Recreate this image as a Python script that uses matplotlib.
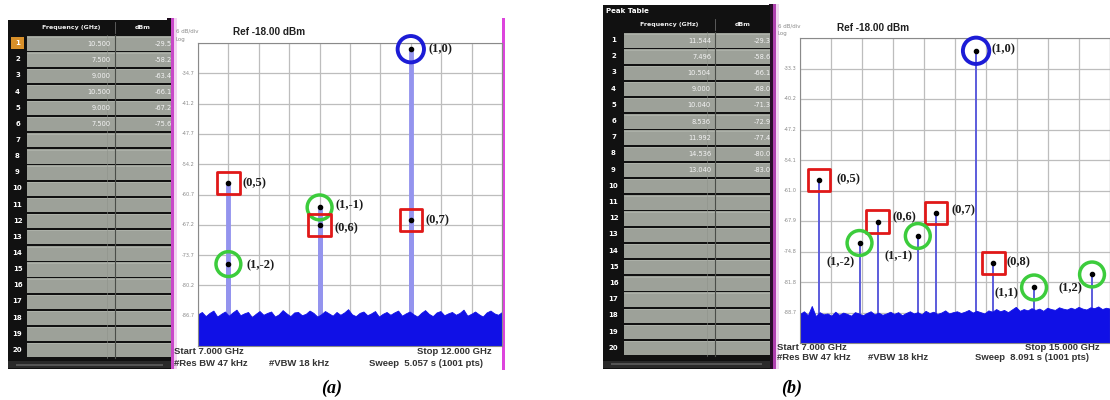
import numpy as np
import matplotlib
matplotlib.use("Agg")
import matplotlib.pyplot as plt
from matplotlib.patches import Rectangle

# ---------------- data ----------------
a_table_freq = ["10.500", "7.500", "9.000", "10.500", "9.000", "7.500"]
a_table_dbm = ["-29.53", "-58.28", "-63.47", "-66.13", "-67.25", "-75.63"]
a_peak_freq = [10.5, 7.5, 9.0, 10.5, 9.0, 7.5]
a_peak_dbm = [-29.53, -58.28, -63.47, -66.13, -67.25, -75.63]
a_peak_label = ["(1,0)", "(0,5)", "(1,-1)", "(0,7)", "(0,6)", "(1,-2)"]
a_noise_top = [-86.4, -85.9, -86.8, -86.1, -85.6, -86.9, -86.3, -85.8, -86.7, -86.0,
               -85.4, -86.6, -86.2, -85.9, -87.0, -86.3, -85.7, -86.5, -86.1, -85.8,
               -86.9, -86.4, -85.5, -86.2, -86.8, -86.0, -85.9, -86.6, -86.3, -85.6,
               -86.1, -86.9, -86.4, -85.7, -86.2, -86.7, -85.9, -86.5, -86.0, -85.3,
               -86.4, -86.8, -86.1, -85.8, -86.6, -86.2, -85.7, -86.9, -86.3, -85.9,
               -86.5, -86.0, -85.6, -86.7, -86.2, -85.8, -86.4, -86.9, -86.1, -85.5,
               -86.3, -86.8, -86.0, -85.7, -86.6, -86.2, -85.9, -86.5, -86.1, -85.4,
               -86.7, -86.3, -85.8, -86.4, -86.9, -86.0, -85.6, -86.2, -86.5, -85.9]
a_span = (7.0, 12.0)
a_ylim = (-93.2, -28.2)
a_footer = ["Start 7.000 GHz", "Stop 12.000 GHz", "#Res BW 47 kHz", "#VBW 18 kHz",
            "Sweep  5.057 s (1001 pts)"]

b_table_freq = ["11.544", "7.496", "10.504", "9.000", "10.040", "8.536", "11.992",
                "14.536", "13.040"]
b_table_dbm = ["-29.30", "-58.61", "-66.12", "-68.05", "-71.32", "-72.91", "-77.40",
               "-80.05", "-83.00"]
b_peak_freq = [11.544, 7.496, 10.504, 9.0, 10.04, 8.536, 11.992, 14.536, 13.04]
b_peak_dbm = [-29.30, -58.61, -66.12, -68.05, -71.32, -72.91, -77.40, -80.05, -83.00]
b_peak_label = ["(1,0)", "(0,5)", "(0,7)", "(0,6)", "(1,-1)", "(1,-2)", "(0,8)",
                "(1,2)", "(1,1)"]
b_noise_top = [-89.0, -88.4, -89.3, -87.2, -89.5, -88.6, -89.1, -88.9, -89.4, -88.5,
               -89.2, -88.7, -89.0, -89.4, -88.6, -88.9, -89.3, -88.8, -88.4, -89.1,
               -88.7, -89.2, -88.9, -88.5, -89.0, -88.6, -89.3, -88.8, -88.4, -88.9,
               -88.6, -89.1, -88.3, -88.8, -88.5, -89.0, -88.7, -88.2, -88.9, -88.6,
               -88.4, -88.8, -88.5, -88.1, -88.7, -88.3, -88.6, -88.9, -88.2, -88.5,
               -87.9, -88.4, -88.1, -88.6, -88.0, -87.4, -88.3, -87.9, -88.2, -87.7,
               -88.1, -87.8, -88.3, -87.6, -87.9, -88.1, -87.5, -87.8, -88.0, -87.6,
               -87.9, -87.4, -87.8, -88.0, -87.5, -87.7, -87.3, -87.9, -87.6, -87.8]
b_span = (7.0, 15.0)
b_ylim = (-95.6, -26.4)
b_footer = ["Start 7.000 GHz", "Stop 15.000 GHz", "#Res BW 47 kHz", "#VBW 18 kHz",
            "Sweep  8.091 s (1001 pts)"]

ref_text = "Ref -18.00 dBm"
table_header = ["Frequency (GHz)", "dBm"]

# ---------------- layout helpers ----------------
W, H = 1110, 400
fig = plt.figure(figsize=(W / 100, H / 100), dpi=100)


def px_axes(x0, y0, x1, y1, **kw):
    return fig.add_axes([x0 / W, 1 - y1 / H, (x1 - x0) / W, (y1 - y0) / H], **kw)


def ftxt(x, y, s, **kw):
    fig.text(x / W, 1 - y / H, s, **kw)


bg = px_axes(0, 0, W, H)
bg.set_xlim(0, W)
bg.set_ylim(H, 0)
bg.axis("off")
# panel borders
for (x, w, c, y0, y1) in [(167, 4, "#1c0c1c", 18, 369), (171, 2.5, "#c848c8", 18, 369),
                          (173.5, 3, "#f2d2f2", 18, 369), (502, 2.5, "#dd44dd", 18, 370),
                          (769, 4, "#2a0c2a", 4, 369), (773, 2.5, "#b040b0", 4, 369),
                          (775.5, 3, "#f2d6f2", 4, 369)]:
    bg.add_patch(Rectangle((x, y0), w, y1 - y0, color=c, lw=0))


def draw_table(x0, x1, y_top, title, title_h, header_h, row_h, num_w, split,
               freqs, dbms, highlight):
    y_bot = 369
    ax = px_axes(x0, y_top, x1, y_bot)
    ax.set_xlim(x0, x1)
    ax.set_ylim(y_bot, y_top)
    ax.axis("off")
    ax.add_patch(Rectangle((x0, y_top), x1 - x0, y_bot - y_top, color="#111111", lw=0))
    y = y_top
    if title:
        ax.text(x0 + 3, y + title_h / 2, title, color="white", fontsize=5,
                fontweight="bold", va="center", ha="left")
        y += title_h
    ax.text((x0 + num_w + split) / 2, y + header_h / 2, table_header[0], color="#eeeeee",
            fontsize=4.5, fontweight="bold", ha="center", va="center")
    ax.text((split + x1) / 2, y + header_h / 2, table_header[1], color="#eeeeee",
            fontsize=4.5, fontweight="bold", ha="center", va="center")
    ax.plot([split, split], [y + 2, y + header_h - 2], color="#666666", lw=0.6)
    y += header_h
    for i in range(20):
        ry = y + i * row_h
        if highlight and i == 0:
            ax.add_patch(Rectangle((x0 + 3, ry + 2), num_w - 6, row_h - 4,
                                   color="#d8902a", lw=0))
        ax.text(x0 + num_w / 2, ry + row_h / 2, str(i + 1), color="white", fontsize=5,
                fontweight="bold", ha="center", va="center")
        ax.add_patch(Rectangle((x0 + num_w, ry + 1.2), x1 - x0 - num_w, row_h - 1.8,
                               color="#9da199", lw=0))
        ax.plot([x0 + num_w, x1], [ry + 1.6, ry + 1.6], color="#b8bcb4", lw=0.4)
        if i < len(freqs):
            ax.text(split - 4, ry + row_h / 2 + 0.5, freqs[i], color="#f4f4f4",
                    fontsize=4.8, ha="right", va="center", clip_on=True)
            ax.text(x1 + 5, ry + row_h / 2 + 0.5, dbms[i], color="#f4f4f4",
                    fontsize=4.8, ha="right", va="center", clip_on=True)
    ax.plot([split, split], [y, y + 20 * row_h], color="#4a4d48", lw=0.8)
    ax.plot([split - 8, split - 8], [y, y + 20 * row_h], color="#8d918a", lw=0.4)
    ax.add_patch(Rectangle((x0, 361), x1 - x0, 7, color="#2a2a2a", lw=0))
    ax.add_patch(Rectangle((x0 + 8, 363.5), x1 - x0 - 16, 2, color="#555555", lw=0))


def draw_spectrum(box, span, ylim, freqs, dbms, labels, noise, offsets, line_color,
                  line_w, ref_xy, logdiv_xy, footer_pos, footer):
    x0, y0, x1, y1 = box
    ax = px_axes(x0, y0, x1, y1)
    ax.set_xlim(span)
    ax.set_ylim(ylim)
    ax.set_xticks(np.linspace(span[0], span[1], 11))
    yt = np.linspace(ylim[0], ylim[1], 11)
    ax.set_yticks(yt)
    ax.grid(True, color="#bdbdbd", lw=0.9)
    ax.set_axisbelow(True)
    ax.tick_params(length=0, labelbottom=False, labelleft=False)
    for s in ax.spines.values():
        s.set_color("#8a8a8a")
        s.set_linewidth(0.8)
    nx = np.linspace(span[0], span[1], len(noise))
    ax.vlines(freqs, ylim[0], dbms, colors=line_color, lw=line_w, zorder=1.5)
    ax.fill_between(nx, ylim[0], noise, color="#1010e6", lw=0.6, edgecolor="#1010e6",
                    zorder=2)
    ax.scatter(freqs, dbms, marker="o", s=9, color="black", zorder=6)
    for f, v, lab in zip(freqs, dbms, labels):
        if lab == "(1,0)":
            mk, sz, ec, lw = "o", 360, "#1c1cd6", 2.8
        elif lab.startswith("(0,"):
            mk, sz, ec, lw = "s", 260, "#e01818", 2.0
        else:
            mk, sz, ec, lw = "o", 320, "#3ccc3c", 2.5
        ax.scatter([f], [v], marker=mk, s=sz, facecolors="none", edgecolors=ec,
                   linewidths=lw, zorder=5, clip_on=False)
        dx, dy, ha = offsets[lab]
        ax.annotate(lab, (f, v), xytext=(dx, dy), textcoords="offset pixels", ha=ha,
                    va="center", fontsize=9, fontweight="bold",
                    family="Liberation Serif", color="#1a1a1a", zorder=7,
                    annotation_clip=False)
    # y tick labels
    for i, val in enumerate(yt[1:-1][::-1]):
        ypx = y0 + (i + 1) * (y1 - y0) / 10
        ftxt(x0 - 3, ypx, f"{val:.1f}", fontsize=3.6, color="#8a8a8a", ha="right",
             va="center")
    ftxt(ref_xy[0], ref_xy[1], ref_text, fontsize=7.2, fontweight="bold",
         color="#202020", ha="left", va="center", family="Liberation Sans")
    ftxt(logdiv_xy[0], logdiv_xy[1], "6 dB/div", fontsize=4, color="#8a8a8a",
         ha="left", va="center")
    ftxt(logdiv_xy[0], logdiv_xy[1] + 8, "Log", fontsize=4, color="#8a8a8a",
         ha="left", va="center")
    for (fx, fy), s in zip(footer_pos, footer):
        ftxt(fx, fy, s, fontsize=6.8, fontweight="bold", color="#333333", ha="left",
             va="center", family="Liberation Sans")


a_offsets = {"(1,0)": (18, 0, "left"), "(0,5)": (14, 0, "left"),
             "(1,-1)": (16, 2, "left"), "(0,7)": (15, 0, "left"),
             "(0,6)": (15, -3, "left"), "(1,-2)": (18, -1, "left")}
b_offsets = {"(1,0)": (15, 2, "left"), "(0,5)": (17, 1, "left"),
             "(0,7)": (16, 3, "left"), "(0,6)": (15, 4, "left"),
             "(1,-1)": (-19, -20, "center"), "(1,-2)": (-19, -19, "center"),
             "(0,8)": (13, 1, "left"), "(1,2)": (-22, -14, "center"),
             "(1,1)": (-28, -6, "center")}

draw_table(8, 171, 20, None, 0, 15, 16.15, 19, 115, a_table_freq, a_table_dbm, True)
draw_table(603, 770, 5, "Peak Table", 12, 15, 16.2, 21, 715, b_table_freq, b_table_dbm,
           False)

draw_spectrum((198, 43, 502, 346), a_span, a_ylim, a_peak_freq, a_peak_dbm,
              a_peak_label, a_noise_top, a_offsets, "#9494ee", 3.5, (233, 32), (176, 31),
              [(174, 352), (417, 352), (174, 363), (269, 363), (369, 363)], a_footer)
draw_spectrum((800, 38, 1110, 343), b_span, b_ylim, b_peak_freq, b_peak_dbm,
              b_peak_label, b_noise_top, b_offsets, "#5c5cdc", 1.4, (837, 28), (778, 26),
              [(777, 347), (1025, 347), (777, 358), (868, 358), (975, 358)], b_footer)

ftxt(332, 388, "(a)", fontsize=13, fontweight="bold", fontstyle="italic",
     family="Liberation Serif", ha="center", va="center")
ftxt(792, 388, "(b)", fontsize=13, fontweight="bold", fontstyle="italic",
     family="Liberation Serif", ha="center", va="center")

fig.savefig("out.png", dpi=100)
